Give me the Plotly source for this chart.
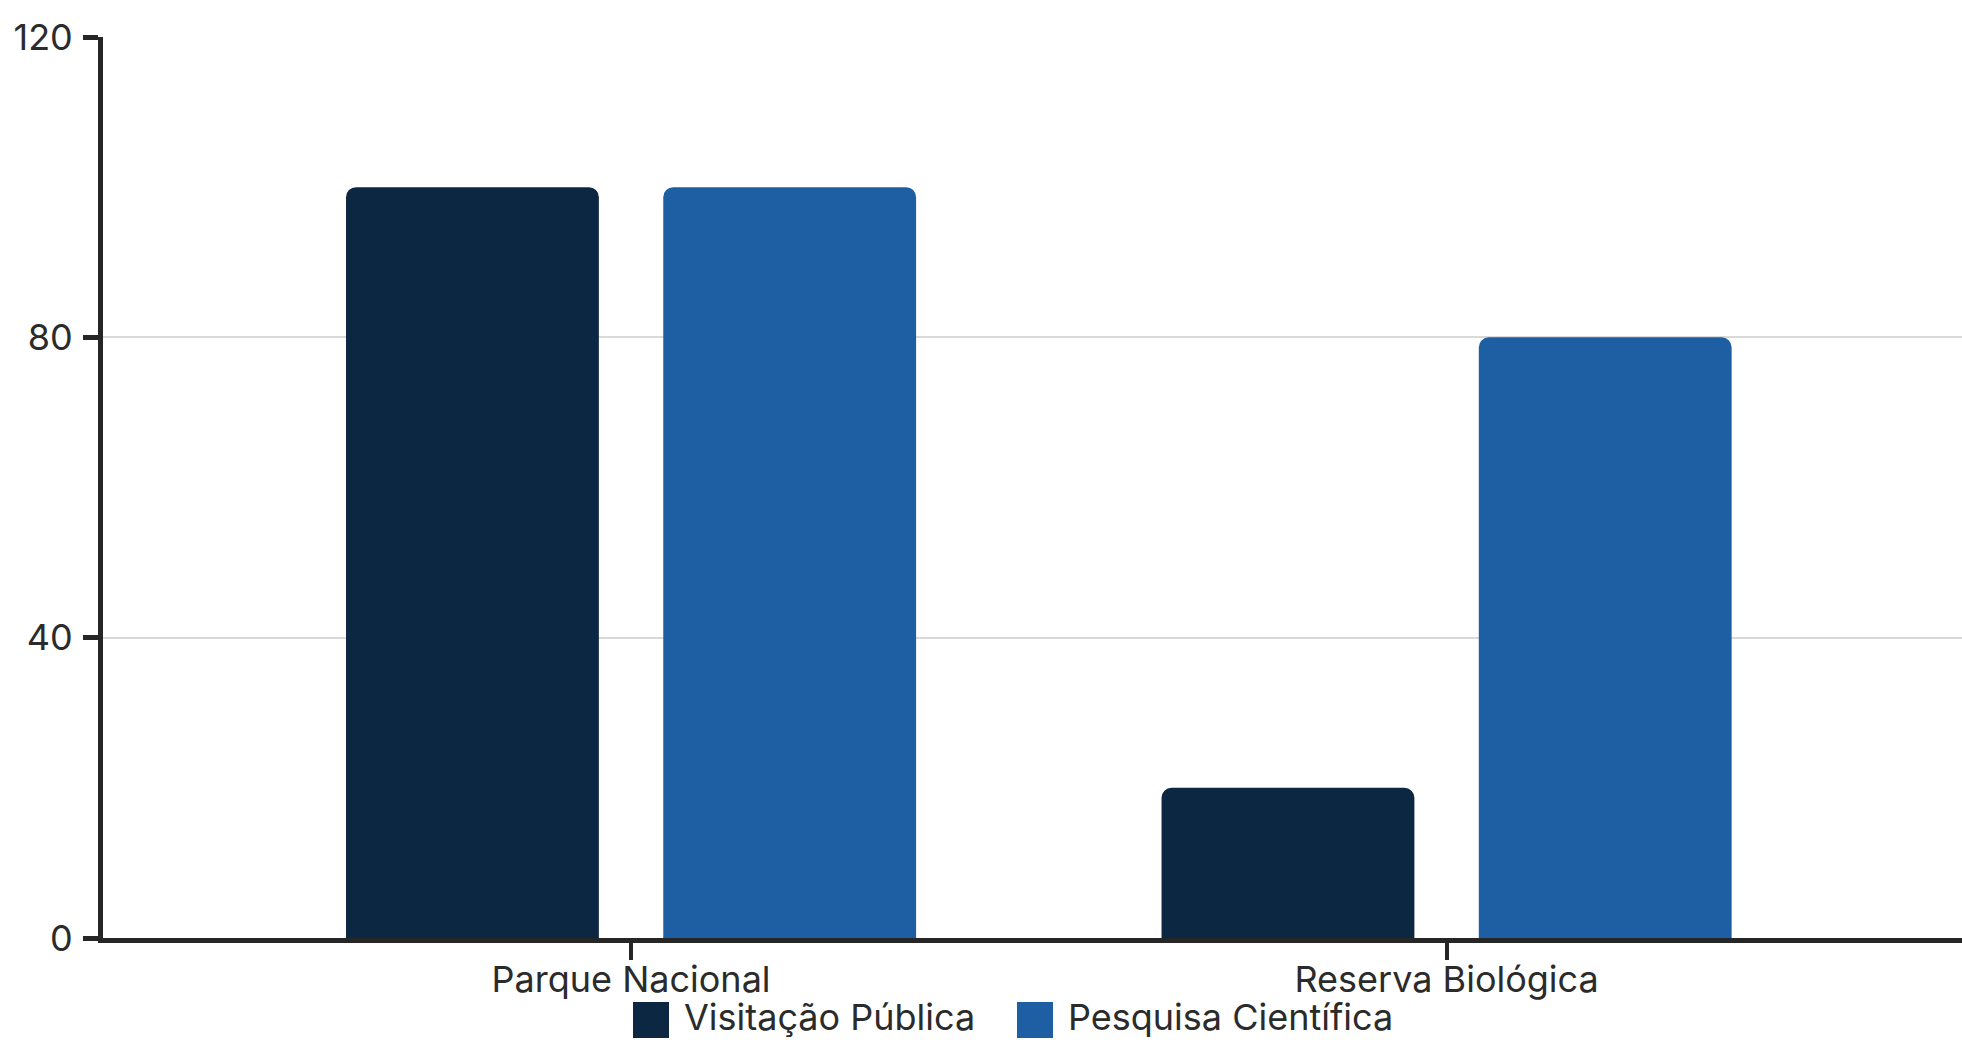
import plotly.graph_objects as go

categories = ["Parque Nacional", "Reserva Biológica"]
series_names = ["Visitação Pública", "Pesquisa Científica"]
visitacao = [100, 20]
pesquisa = [100, 80]
y_ticks = [0, 40, 80, 120]

colors = ["#0c2742", "#1e5fa3"]
text_color = "#2b2b2b"
font_family = "Inter, 'Noto Sans', sans-serif"
FS = 36

fig = go.Figure()
for name, vals, col in zip(series_names, [visitacao, pesquisa], colors):
    fig.add_trace(go.Bar(x=categories, y=vals, name=name, marker=dict(color=col, line=dict(width=0)),
                         showlegend=False))

# Manual legend (swatches + labels) placed below the axis
W, H = 1962, 1040
ml, mr, mt, mb = 103, 0, 37, 102
pw, ph = W - ml - mr, H - mt - mb

def px_x(px):
    return (px - ml) / pw

def px_y(py):
    return (H - mb - py) / ph

legend_items = [(series_names[0], colors[0], 633), (series_names[1], colors[1], 1017)]
for name, col, x0 in legend_items:
    fig.add_shape(type="rect", xref="paper", yref="paper",
                  x0=px_x(x0), x1=px_x(x0 + 36), y0=px_y(1038), y1=px_y(1002),
                  fillcolor=col, line=dict(width=0), layer="above")
    fig.add_annotation(xref="paper", yref="paper", x=px_x(x0 + 50), y=px_y(1017),
                       text=name, showarrow=False, xanchor="left", yanchor="middle",
                       borderpad=0,
                       font=dict(family=font_family, size=FS, color=text_color))

fig.update_layout(
    width=W, height=H,
    margin=dict(l=ml, r=mr, t=mt, b=mb, pad=0),
    paper_bgcolor="white", plot_bgcolor="white",
    barmode="group", bargap=0.222, bargroupgap=0.203,
    barcornerradius=10,
    font=dict(family=font_family, size=FS, color=text_color),
)
fig.update_xaxes(
    range=[-0.6475, 1.632], showgrid=False,
    showline=True, linecolor="#262626", linewidth=5,
    ticks="outside", ticklen=17, tickwidth=4, tickcolor="#262626",
    ticklabelstandoff=-11,
    tickfont=dict(family=font_family, size=FS, color=text_color),
)
fig.update_yaxes(
    range=[0, 120], tickvals=y_ticks, ticktext=[str(v) for v in y_ticks],
    showgrid=True, gridcolor="#d9d9d9", gridwidth=2,
    showline=True, linecolor="#262626", linewidth=5,
    ticks="outside", ticklen=15, tickwidth=5, tickcolor="#262626",
    ticklabelstandoff=3,
    tickfont=dict(family=font_family, size=FS, color=text_color),
    zeroline=False,
)

fig.write_html("out.html", config={"displayModeBar": False},
               post_script="document.body.style.margin='0px';document.body.style.overflow='hidden';")
